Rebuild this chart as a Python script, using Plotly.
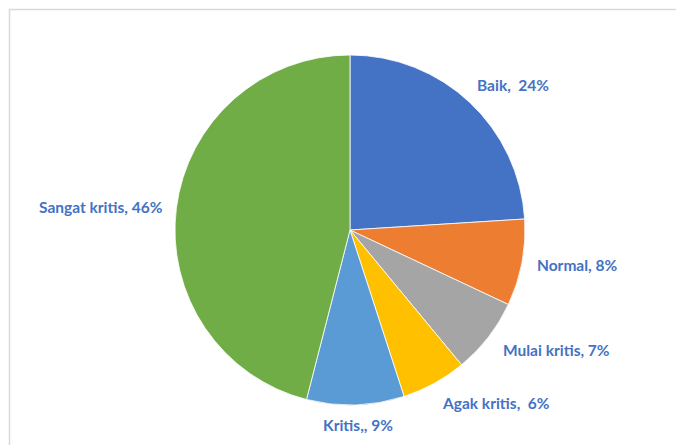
import plotly.graph_objects as go

categories = ["Baik", "Normal", "Mulai kritis", "Agak kritis", "Kritis,", "Sangat kritis"]
values = [24, 8, 7, 6, 9, 46]
label_text = ["Baik,  24%", "Normal, 8%", "Mulai kritis, 7%", "Agak kritis,  6%", "Kritis,, 9%", "Sangat kritis, 46%"]
colors = ["#4472C4", "#ED7D31", "#A5A5A5", "#FFC000", "#5B9BD5", "#70AD47"]
# label centre positions in pixels (x, y from top)
label_pos = [(513, 85), (577, 265), (556, 350), (496, 403), (358, 425), (101, 207)]

W, H = 676, 445

fig = go.Figure(go.Pie(
    labels=categories,
    values=values,
    sort=False,
    direction="clockwise",
    rotation=0,
    marker=dict(colors=colors, line=dict(color="white", width=0.8)),
    textinfo="none",
    hoverinfo="label+percent",
    domain=dict(x=[175 / W, 525 / W], y=[1 - 405 / H, 1 - 55 / H]),
    showlegend=False,
))

for txt, (px, py) in zip(label_text, label_pos):
    fig.add_annotation(
        x=px / W, y=1 - py / H, xref="paper", yref="paper",
        text=f"<b>{txt}</b>", showarrow=False,
        xanchor="center", yanchor="middle",
        font=dict(family="Lato, Open Sans, sans-serif", size=15.5, color="#4472C4"),
    )

fig.add_shape(
    type="rect", xref="paper", yref="paper",
    x0=9.5 / W, x1=1.02, y0=-0.02, y1=1 - 9.5 / H,
    line=dict(color="#D9D9D9", width=1.5), fillcolor="rgba(0,0,0,0)",
)

fig.update_layout(
    width=W, height=H,
    margin=dict(l=0, r=0, t=0, b=0),
    paper_bgcolor="white", plot_bgcolor="white",
)

fig.write_html("out.html")
